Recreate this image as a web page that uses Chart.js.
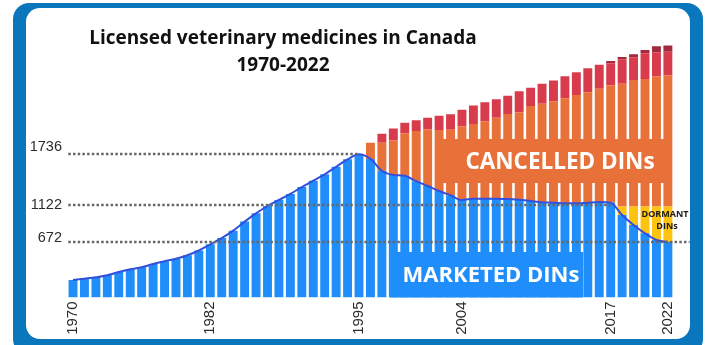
<!DOCTYPE html>
<html>
<head>
<meta charset="utf-8">
<title>Licensed veterinary medicines in Canada</title>
<script src="https://cdn.jsdelivr.net/npm/chart.js@4.4.0/dist/chart.umd.min.js"></script>
<style>
    body { margin: 0; width: 706px; height: 345px; background: #fff; overflow: hidden; position: relative; }
    .frame { position: absolute; left: 13px; top: 3px; width: 690px; height: 352px; background: #0a77bd; border-radius: 16px; }
    .panel { position: absolute; left: 26px; top: 8px; width: 664px; height: 331px; background: #fff; border-radius: 14px; }
    #chart { position: absolute; left: 0; top: 0; }
</style>
</head>
<body>
<div class="frame"></div>
<div class="panel"></div>
<canvas id="chart" width="706" height="345"></canvas>
<script>
// categories: one bar per year
let years = [];
for (let y = 1970; y <= 2022; y++) years.push(String(y));

let shownYears = ['1970', '1982', '1995', '2004', '2017', '2022'];

// leading zeros for years before a series starts
function pad(n, arr) {
    return new Array(n).fill(0).concat(arr);
}

let marketed = [
    212, 228, 245, 269, 309, 342, 366, 406, 439, 470,
    512, 570, 645, 720, 810, 920, 1020, 1109, 1182, 1255,
    1339, 1416, 1493, 1585, 1675, 1736, 1680, 1535, 1485, 1475,
    1410, 1352, 1291, 1239, 1182, 1198, 1198, 1198, 1194, 1186,
    1170, 1154, 1149, 1141, 1141, 1149, 1158, 1149, 1000, 879,
    778, 697, 672
];

// 2018-2022
let dormant = pad(48, [103, 224, 325, 406, 431]);

// 1996-2022
let cancelled = pad(26, [
    196, 341, 418, 513, 608, 687, 739, 795, 891, 905,
    939, 980, 1030, 1060, 1151, 1195, 1230, 1274, 1314, 1339,
    1372, 1421, 1489, 1533, 1545, 1576, 1590
]);

// red band on top of the cancelled bars, 1996-2022
let redBand = pad(26, [
    0, 109, 145, 130, 130, 140, 174, 188, 203, 224,
    230, 224, 221, 253, 222, 241, 251, 266, 275, 290,
    292, 269, 295, 276, 312, 294, 286
]);

// dark cap, 2017-2022
let darkBand = pad(47, [28, 28, 37, 40, 72, 76]);

// dotted guide lines and the year where each one stops
let refValues = [1736, 1122, 672];
let refEnds = ['1995', '2017', '2022'];
let refLabelShift = [-7, 0, -4];

let overlay = {
    id: 'overlay',
    afterDatasetsDraw(chart) {
        let ctx = chart.ctx;
        let x = chart.scales.x;
        let y = chart.scales.y;
        let area = chart.chartArea;

        ctx.save();

        // label boxes that cover the bar gaps
        ctx.fillStyle = '#e8713a';
        ctx.fillRect(442, 139, 226, 44);
        ctx.fillStyle = '#1f8efa';
        ctx.fillRect(390, 252, 193, area.bottom - 252);

        // dotted guide lines
        ctx.strokeStyle = '#676767';
        ctx.lineWidth = 2.5;
        ctx.setLineDash([2.5, 2.2]);
        refValues.forEach((v, i) => {
            let py = Math.round(y.getPixelForValue(v));
            let endX = x.getPixelForValue(years.indexOf(refEnds[i]));
            if (i === 2) endX = area.right + 16;
            ctx.beginPath();
            ctx.moveTo(area.left + 1, py);
            ctx.lineTo(endX, py);
            ctx.stroke();

            ctx.fillStyle = '#2b2b2b';
            ctx.font = '14.5px "Liberation Sans", Arial, sans-serif';
            ctx.textAlign = 'right';
            ctx.textBaseline = 'middle';
            ctx.fillText(String(v), 62, py + refLabelShift[i]);
        });
        ctx.setLineDash([]);

        // series labels
        ctx.fillStyle = '#fff';
        ctx.textAlign = 'center';
        ctx.textBaseline = 'middle';
        ctx.font = 'bold 22.5px "Open Sans", sans-serif';
        ctx.fillText('CANCELLED DINs', 560, 163);
        ctx.font = 'bold 22px "Open Sans", sans-serif';
        ctx.fillText('MARKETED DINs', 491, 276);

        ctx.fillStyle = '#1a1a1a';
        ctx.font = 'bold 9px "Open Sans", sans-serif';
        ctx.fillText('DORMANT', 665, 214);
        ctx.fillText('DINs', 667, 226);

        // title
        ctx.fillStyle = '#111';
        ctx.font = 'bold 19px "Open Sans", sans-serif';
        ctx.fillText('Licensed veterinary medicines in Canada', 283, 39);
        ctx.fillText('1970-2022', 283, 66);

        ctx.restore();
    }
};

let bar = {
    type: 'bar',
    stack: 'bars',
    order: 1,
    borderWidth: 0,
    barPercentage: 0.78,
    categoryPercentage: 1
};

new Chart(document.getElementById('chart'), {
    data: {
        labels: years,
        datasets: [
            {
                type: 'line',
                label: 'Marketed trend',
                data: marketed,
                stack: 'line',
                order: 0,
                borderColor: '#3350dc',
                borderWidth: 2,
                pointRadius: 0,
                fill: false,
                cubicInterpolationMode: 'monotone'
            },
            Object.assign({ label: 'Marketed DINs', data: marketed, backgroundColor: '#1f8efa' }, bar),
            Object.assign({ label: 'Dormant DINs', data: dormant, backgroundColor: '#fec30f' }, bar),
            Object.assign({ label: 'Cancelled DINs', data: cancelled, backgroundColor: '#e8713a' }, bar),
            Object.assign({ label: 'Red band', data: redBand, backgroundColor: '#d83c4c' }, bar),
            Object.assign({ label: 'Dark band', data: darkBand, backgroundColor: '#a22a3a' }, bar)
        ]
    },
    options: {
        responsive: false,
        animation: false,
        layout: {
            padding: { left: 67.3, right: 32.4, top: 33.5, bottom: 0 }
        },
        plugins: {
            legend: { display: false },
            tooltip: { enabled: false }
        },
        scales: {
            x: {
                stacked: true,
                grid: { display: false, drawTicks: false },
                border: { display: false },
                ticks: {
                    autoSkip: false,
                    minRotation: 90,
                    maxRotation: 90,
                    padding: 4,
                    color: '#2b2b2b',
                    font: { family: '"Liberation Sans", Arial, sans-serif', size: 15 },
                    callback: function (value, index) {
                        return shownYears.includes(years[index]) ? years[index] : '';
                    }
                },
                afterFit: function (scale) {
                    scale.height = 47.5;
                }
            },
            y: {
                stacked: true,
                display: false,
                min: 0,
                max: 3200
            }
        }
    },
    plugins: [overlay]
});
</script>
</body>
</html>
